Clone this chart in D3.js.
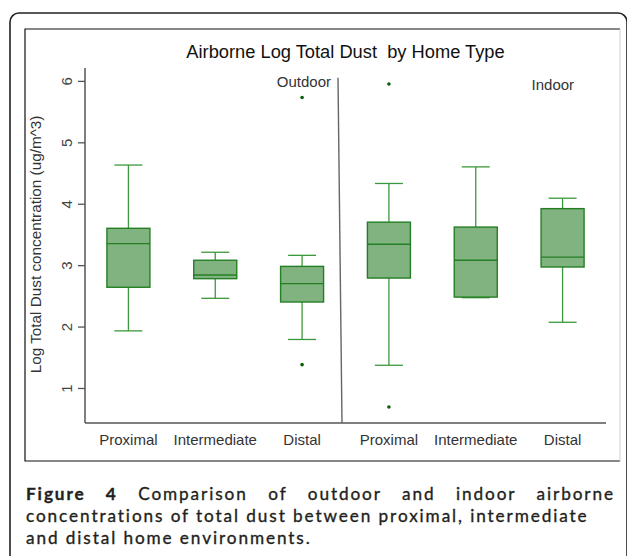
<!DOCTYPE html>
<html><head><meta charset="utf-8">
<script src="https://cdn.jsdelivr.net/npm/d3@7"></script>
<style>html,body{margin:0;padding:0;background:#fff;}svg{display:block;} text{white-space:pre;}</style>
</head><body>
<script>
// ---- data ----
const categories = ["Proximal","Intermediate","Distal","Proximal","Intermediate","Distal"];
const groups = ["Outdoor","Outdoor","Outdoor","Indoor","Indoor","Indoor"];
const whiskerLow  = [1.93, 2.46, 1.79, 1.37, 2.47, 2.07];
const q1          = [2.64, 2.78, 2.40, 2.79, 2.48, 2.97];
const medians     = [3.35, 2.84, 2.70, 3.34, 3.08, 3.13];
const q3          = [3.60, 3.08, 2.98, 3.70, 3.62, 3.92];
const whiskerHigh = [4.63, 3.21, 3.16, 4.33, 4.60, 4.09];
const outliers    = [[], [], [5.73, 1.38], [5.95, 0.69], [], []];
const yTicks = [1, 2, 3, 4, 5, 6];
const panelLabels = ["Outdoor", "Indoor"];
const titleText = "Airborne Log Total Dust  by Home Type";
const yTitle = "Log Total Dust concentration (ug/m^3)";
const captionBold = "Figure 4";
const captionLines = [" Comparison of outdoor and indoor airborne",
  "concentrations of total dust between proximal, intermediate",
  "and distal home environments."];

const W = 627, H = 556;
const svg = d3.select("body").append("svg").attr("width", W).attr("height", H);

// outer rounded frame
svg.append("rect").attr("x", 10).attr("y", 13).attr("width", 617).attr("height", 600)
  .attr("rx", 9).attr("fill", "none").attr("stroke", "#222").attr("stroke-width", 1.6);

// inner chart box
svg.append("rect").attr("x", 25).attr("y", 29).attr("width", 595).attr("height", 432)
  .attr("fill", "#fff").attr("stroke", "none");
svg.append("path").attr("d", "M620,29H25V461H620").attr("fill", "none").attr("stroke", "#111").attr("stroke-width", 1.2);
svg.append("line").attr("x1", 620).attr("x2", 620).attr("y1", 29).attr("y2", 461).attr("stroke", "#d0d0d0");

const x = d3.scaleBand().domain(d3.range(categories.length)).range([85, 606]).padding(0);
const y = d3.scaleLinear().domain([0.43, 6.21]).range([423, 68]);
const font = "'Liberation Sans', Arial, sans-serif";

// axes
const yAxis = d3.axisLeft(y).tickValues(yTicks).tickSize(7).tickFormat(d3.format("d"));
const gy = svg.append("g").attr("transform", "translate(85,0)").call(yAxis);
gy.select(".domain").attr("stroke", "#555").attr("stroke-width", 1.5).attr("d", `M0,${y.range()[1]}V${y.range()[0]}`);
gy.selectAll(".tick line").attr("stroke", "#555").attr("stroke-width", 1.3);
gy.selectAll(".tick text").attr("font-family", font).attr("font-size", 15).attr("fill", "#444")
  .attr("transform", "rotate(-90)").attr("x", 0).attr("y", -13).attr("dy", "0").attr("text-anchor", "middle");

svg.append("line").attr("x1", 85).attr("x2", 606).attr("y1", y.range()[0]).attr("y2", y.range()[0])
  .attr("stroke", "#555").attr("stroke-width", 1.5);

// x labels
svg.append("g").selectAll("text").data(categories).join("text")
  .attr("x", (d, i) => x(i) + x.bandwidth() / 2).attr("y", 444.5)
  .attr("text-anchor", "middle").attr("font-family", font).attr("font-size", 15).attr("fill", "#333")
  .text(d => d);

// title
svg.append("text").attr("x", 345.5).attr("y", 57.5).attr("text-anchor", "middle")
  .attr("font-family", font).attr("font-size", 18.3).attr("fill", "#111").text(titleText);

// y title
svg.append("text").attr("transform", `translate(41,${(y(6.1) + y(0.9)) / 2 + 10}) rotate(-90)`)
  .attr("text-anchor", "middle").attr("font-family", font).attr("font-size", 15.3).attr("fill", "#333")
  .text(yTitle);

// divider
const divX = x(3) - 7.5;
svg.append("line").attr("x1", divX).attr("x2", divX + 4).attr("y1", y(6.05)).attr("y2", y.range()[0])
  .attr("stroke", "#666").attr("stroke-width", 1.4);

// panel labels
svg.append("text").attr("x", divX - 7).attr("y", 87).attr("text-anchor", "end")
  .attr("font-family", font).attr("font-size", 15).attr("fill", "#333").text(panelLabels[0]);
svg.append("text").attr("x", x(5) + x.bandwidth() / 2 + 11.5).attr("y", 90).attr("text-anchor", "end")
  .attr("font-family", font).attr("font-size", 15).attr("fill", "#333").text(panelLabels[1]);

// boxes
const boxW = 43, capW = 28;
const fill = "#80b380", dark = "#247f24", wcol = "#3c983c";
const g = svg.append("g");
categories.forEach((c, i) => {
  const cx = x(i) + x.bandwidth() / 2;
  g.append("line").attr("x1", cx).attr("x2", cx).attr("y1", y(q3[i])).attr("y2", y(whiskerHigh[i])).attr("stroke", wcol).attr("stroke-width", 1.3);
  g.append("line").attr("x1", cx).attr("x2", cx).attr("y1", y(q1[i])).attr("y2", y(whiskerLow[i])).attr("stroke", wcol).attr("stroke-width", 1.3);
  g.append("line").attr("x1", cx - capW / 2).attr("x2", cx + capW / 2).attr("y1", y(whiskerHigh[i])).attr("y2", y(whiskerHigh[i])).attr("stroke", wcol).attr("stroke-width", 1.3);
  g.append("line").attr("x1", cx - capW / 2).attr("x2", cx + capW / 2).attr("y1", y(whiskerLow[i])).attr("y2", y(whiskerLow[i])).attr("stroke", wcol).attr("stroke-width", 1.3);
  g.append("rect").attr("x", cx - boxW / 2).attr("width", boxW).attr("y", y(q3[i])).attr("height", y(q1[i]) - y(q3[i]))
    .attr("fill", fill).attr("stroke", dark).attr("stroke-width", 1.4);
  g.append("line").attr("x1", cx - boxW / 2).attr("x2", cx + boxW / 2).attr("y1", y(medians[i])).attr("y2", y(medians[i])).attr("stroke", dark).attr("stroke-width", 1.4);
  outliers[i].forEach(v => {
    g.append("circle").attr("cx", cx).attr("cy", y(v)).attr("r", 1.8).attr("fill", "#0a5e0a");
  });
});

// caption
const capFont = "Lato, 'Open Sans', sans-serif";
const capLeft = 26, capRight = 615;
const capG = svg.append("g").attr("font-family", capFont).attr("fill", "#231f20")
  .attr("stroke", "#231f20").attr("stroke-width", 0.35);
const fs = 17.2;
const probe = capG.append("text").attr("font-size", fs).text(captionLines[1]);
const natural = probe.node().getComputedTextLength();
const ls = (561 - natural) / (captionLines[1].length - 1);
probe.remove();
capG.attr("letter-spacing", ls);
const lineYs = [500, 522, 544];
const t1 = capG.append("text").attr("x", capLeft).attr("y", lineYs[0]).attr("font-size", fs);
t1.append("tspan").attr("font-weight", "bold").text(captionBold);
t1.append("tspan").text(captionLines[0]);
const w1 = t1.node().getComputedTextLength();
const nSpaces = (captionBold + captionLines[0]).split(" ").length - 1;
t1.attr("word-spacing", (capRight - capLeft - w1) / nSpaces);
capG.append("text").attr("x", capLeft).attr("y", lineYs[1]).attr("font-size", fs).text(captionLines[1]);
capG.append("text").attr("x", capLeft).attr("y", lineYs[2]).attr("font-size", fs).text(captionLines[2]);
</script>
</body></html>
